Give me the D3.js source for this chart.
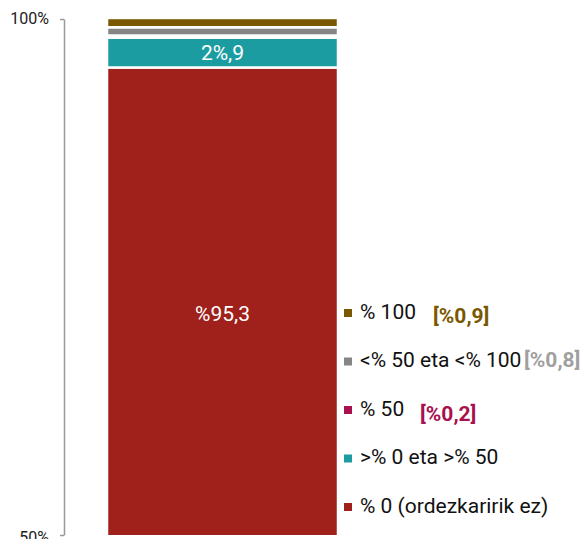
<!DOCTYPE html>
<html>
<head>
<meta charset="utf-8">
<script src="https://cdn.jsdelivr.net/npm/d3@7"></script>
<style>
  body { margin: 0; background: #fff; }
  svg { font-family: Roboto, "Noto Sans", sans-serif; display: block; }
</style>
</head>
<body>
<svg width="582" height="539"></svg>
<script>
// categories, bottom to top of the stack
var categories = ["% 0 (ordezkaririk ez)", ">% 0 eta >% 50", "% 50", "<% 50 eta <% 100", "% 100"];
var values = [95.3, 2.9, 0.2, 0.8, 0.9];
var colours = ["#a0201b", "#1b9ca1", "#a8104e", "#858585", "#7a5800"];
var barLabels = ["%95,3", "2%,9", "", "", ""];
// bracketed values shown in the legend for the thin segments
var legendValues = ["", "", "[%0,2]", "[%0,8]", "[%0,9]"];
var tickValues = [50, 100];
var tickLabels = ["50%", "100%"];

var svg = d3.select("svg"),
    width = +svg.attr("width"),
    height = +svg.attr("height");

var y = d3.scaleLinear()
    .domain([50, 100])
    .range([535, 19]);

var x = d3.scaleBand()
    .domain(["bar"])
    .range([107, 338])
    .padding(0);

// stack
var stackData = [];
var acc = 0;
for (var i = 0; i < values.length; i++) {
    stackData.push({ y0: acc, y1: acc + values[i], colour: colours[i], label: barLabels[i], first: i == 0 });
    acc += values[i];
}

svg.append("clipPath").attr("id", "plot-clip")
    .append("rect")
        .attr("x", 0).attr("y", 0)
        .attr("width", width).attr("height", y(50));

const g = svg.append("g").attr("clip-path", "url(#plot-clip)");

g.selectAll("rect")
    .data(stackData)
    .enter()
    .append("rect")
        .attr("x", x("bar"))
        .attr("width", x.bandwidth())
        .attr("y", d => y(d.y1))
        .attr("height", d => Math.max(0, y(d.y0) - y(d.y1)))
        .attr("fill", d => d.colour)
        .attr("stroke", "#fff")
        .attr("stroke-width", 2.5);

// labels inside the bar (big one sits a bit below the visible middle)
g.selectAll("text.bar-label")
    .data(stackData.filter(d => d.label))
    .enter()
    .append("text")
        .attr("class", "bar-label")
        .attr("x", x("bar") + x.bandwidth() / 2)
        .attr("y", d => (y(Math.max(d.y0, 50)) + y(d.y1)) / 2 + (d.first ? 12 : 0))
        .attr("dy", "0.36em")
        .attr("text-anchor", "middle")
        .attr("fill", "#fff")
        .style("font-size", "21px")
        .text(d => d.label);

// axis
var axis = d3.axisLeft(y)
    .tickValues(tickValues)
    .tickFormat((d, i) => tickLabels[i])
    .tickSize(4)
    .tickSizeOuter(0)
    .tickPadding(11);

var axisG = svg.append("g")
    .attr("transform", "translate(64,0)")
    .call(axis)
    .attr("font-size", 16)
    .attr("font-family", "Roboto, sans-serif");
axisG.select(".domain").attr("stroke", "#999").attr("stroke-width", 1.5);
axisG.selectAll(".tick line").attr("stroke", "#999").attr("stroke-width", 1.5);
axisG.selectAll(".tick text")
    .attr("fill", "#222")
    .attr("dy", (d, i) => i == 0 ? "0.45em" : "0.3em");

// legend, top to bottom
var legendItems = categories.map((c, i) => ({ name: c, colour: colours[i], value: legendValues[i] })).reverse();
var legendY = d3.scalePoint()
    .domain(legendItems.map(d => d.name))
    .range([311, 505]);
var legendValueX = { "% 100": 433, "<% 50 eta <% 100": 524, "% 50": 420 };
var legendValueDy = { "% 100": 4, "<% 50 eta <% 100": 0, "% 50": 5 };

var legend = svg.append("g");
var item = legend.selectAll("g")
    .data(legendItems)
    .enter()
    .append("g")
        .attr("transform", d => "translate(0," + legendY(d.name) + ")");

item.append("rect")
    .attr("x", 344)
    .attr("y", -2)
    .attr("width", 8)
    .attr("height", 8)
    .attr("fill", d => d.colour);

item.append("text")
    .attr("x", 360)
    .attr("y", 0)
    .attr("dy", "0.36em")
    .attr("fill", "#111")
    .style("font-size", "21px")
    .text(d => d.name);

item.filter(d => d.value)
    .append("text")
        .attr("x", d => legendValueX[d.name])
        .attr("y", d => legendValueDy[d.name])
        .attr("dy", "0.36em")
        .attr("fill", d => d.colour === "#858585" ? "#a0a0a0" : d.colour)
        .style("font-size", "21px")
        .style("font-weight", "bold")
        .text(d => d.value);
</script>
</body>
</html>
